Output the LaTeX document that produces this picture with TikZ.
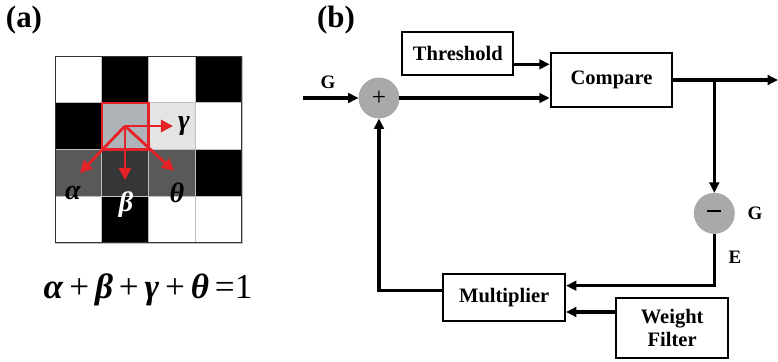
\documentclass[tikz,border=0pt]{standalone}
\usepackage{fontspec}
\setmainfont{Liberation Serif}
\usetikzlibrary{arrows.meta}
\definecolor{cellmid}{HTML}{AEB3B8}
\definecolor{celllight}{HTML}{E4E4E4}
\definecolor{celldark}{HTML}{595959}
\definecolor{celldeep}{HTML}{363636}
\definecolor{sumgray}{HTML}{A9A9A9}
\definecolor{arrred}{HTML}{E52228}
\newcommand{\gk}[1]{\textbf{\textit{#1}}}

\begin{document}
\begin{tikzpicture}[
  x=0.025cm, y=-0.025cm,
  box/.style={draw, line width=1.4pt, inner sep=0pt, font=\fontsize{14.6}{16}\selectfont\bfseries, align=center},
  sum/.style={circle, fill=sumgray, draw=gray!70, line width=0.6pt, minimum size=1cm, inner sep=0pt, font=\fontsize{18}{18}\selectfont},
  sig/.style={font=\fontsize{13.5}{14}\selectfont\bfseries},
  link/.style={line width=2.3pt, -{Triangle[length=0.26cm, width=0.24cm]}},
  red/.style={draw=arrred, line width=2pt, -{Triangle[length=0.3cm, width=0.3cm]}},
  cell/.style={draw=gray!50, line width=0.4pt},
  greek/.style={font=\fontsize{20}{22}\selectfont},
  tag/.style={font=\fontsize{22}{24}\selectfont\bfseries}
]
  \useasboundingbox (0,0) rectangle (778,362);

  % (a) weight grid
  \node[tag] (taga) at (24,20) {(a)};
  \foreach \cx/\cy/\cc in {0/0/white,1/0/black,2/0/white,3/0/black,
                           0/1/black,1/1/cellmid,2/1/celllight,3/1/white,
                           0/2/celldark,1/2/celldeep,2/2/celldark,3/2/black,
                           0/3/white,1/3/black,2/3/white,3/3/white}
    \filldraw[cell, fill=\cc] ({55+\cx*46.7},{56+\cy*46.7}) rectangle ++(46.7,46.7);
  \draw[black!80, line width=0.7pt] (55,56) rectangle (241.8,242.8);
  \draw[arrred, line width=1.6pt] (101.7,102.7) rectangle (148.4,149.4);
  \coordinate (ctr) at (125,126);
  \coordinate (toal) at (80,173);
  \coordinate (tobe) at (125,180);
  \coordinate (toga) at (173,126);
  \coordinate (toth) at (174,171);
  \draw[red] (ctr) -- (toga);
  \draw[red] (ctr) -- (toal);
  \draw[red] (ctr) -- (tobe);
  \draw[red] (ctr) -- (toth);
  \node[greek] (ga) at (184,126) {\gk{γ}};
  \node[greek] (al) at (73,193) {\gk{α}};
  \node[greek, text=white] (be) at (126,205) {\gk{β}};
  \node[greek] (th) at (177,193) {\gk{θ}};
  \node[font=\fontsize{25}{26}\selectfont] (eq) at (148,290) {\gk{α}\,+\,\gk{β}\,+\,\gk{γ}\,+\,\gk{θ}\,=1};

  % (b) feedback loop
  \node[tag] (tagb) at (336,20) {(b)};
  \node[box, minimum width=2.78cm, minimum height=1.08cm] (thr) at (457.8,53.3) {Threshold};
  \node[box, minimum width=3.04cm, minimum height=1.34cm] (cmp) at (611.5,80) {Compare};
  \node[box, minimum width=3.04cm, minimum height=1.17cm] (mul) at (504.2,297.7) {Multiplier};
  \node[box, minimum width=2.81cm, minimum height=1.52cm] (wf) at (672.2,328) {Weight\\Filter};
  \node[sum] (plus) at (379,98) {+};
  \node[sum] (minus) at (714.3,213.3) {\rule[0.2em]{0.55em}{1.6pt}};
  \node[sig] (gin) at (328,82) {G};
  \node[sig] (gm) at (755,213) {G};
  \node[sig] (e) at (735,257) {E};

  \coordinate (src) at (303,98);
  \coordinate (out) at (778,80);
  \coordinate (br) at (714.3,80);
  \coordinate (throut) at ([yshift=-0.275cm]thr.east);
  \coordinate (mulin) at ([yshift=0.3cm]mul.east);
  \coordinate (wfout) at ([yshift=0.4cm]wf.west);
  \coordinate (mulout) at ([yshift=0.175cm]mul.west);

  \draw[link] (src) -- (plus.west);
  \draw[link] (plus.east) -- (plus -| cmp.west);
  \draw[link] (throut) -- (throut -| cmp.west);
  \draw[link] (cmp.east) -- (out);
  \draw[link] (br) -- (minus.north);
  \draw[link] (minus.south) |- (mulin);
  \draw[link] (wfout) -- (wfout -| mul.east);
  \draw[link] (mulout) -| (plus.south);
\end{tikzpicture}
\end{document}
